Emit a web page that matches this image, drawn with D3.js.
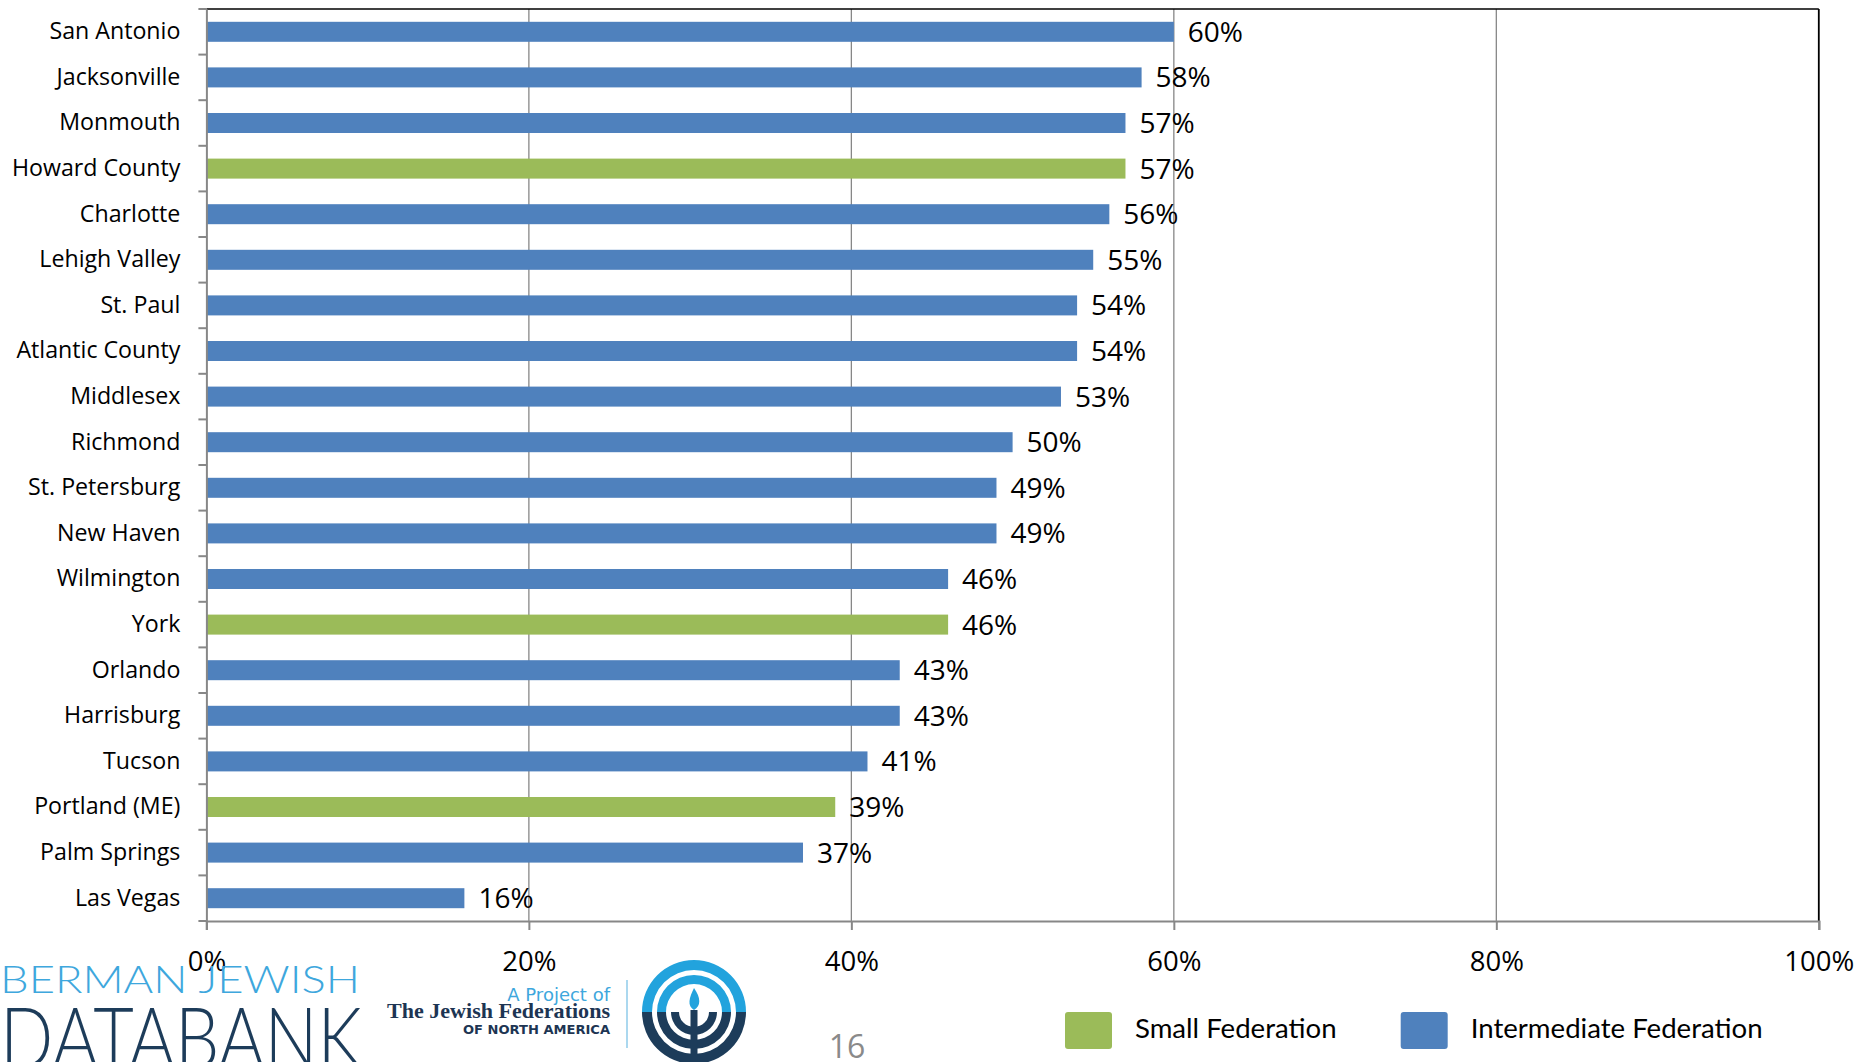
<!DOCTYPE html>
<html>
<head>
<meta charset="utf-8">
<script src="https://cdn.jsdelivr.net/npm/d3@7/dist/d3.min.js"></script>
<style>
  html, body { margin: 0; padding: 0; background: #fff; }
  svg { display: block; }
</style>
</head>
<body>
<svg id="chart" width="1860" height="1062"></svg>
<script>
// ---- Data ----
const categories = ["San Antonio", "Jacksonville", "Monmouth", "Howard County", "Charlotte",
  "Lehigh Valley", "St. Paul", "Atlantic County", "Middlesex", "Richmond", "St. Petersburg",
  "New Haven", "Wilmington", "York", "Orlando", "Harrisburg", "Tucson", "Portland (ME)",
  "Palm Springs", "Las Vegas"];
const values = [60, 58, 57, 57, 56, 55, 54, 54, 53, 50, 49, 49, 46, 46, 43, 43, 41, 39, 37, 16];
const federationType = ["Intermediate", "Intermediate", "Intermediate", "Small", "Intermediate",
  "Intermediate", "Intermediate", "Intermediate", "Intermediate", "Intermediate", "Intermediate",
  "Intermediate", "Intermediate", "Small", "Intermediate", "Intermediate", "Intermediate", "Small",
  "Intermediate", "Intermediate"];
const xTickValues = [0, 20, 40, 60, 80, 100];
const legendTypes = ["Small", "Intermediate"];
const legendLabels = ["Small Federation", "Intermediate Federation"];
const pageNumber = "16";

(function () {
// ---- Layout ----
const svg = d3.select("#chart");
const pLeft = 206.4, pRight = 1818.8, pTop = 9, pBottom = 921;
const color = d3.scaleOrdinal().domain(["Small", "Intermediate"]).range(["#9bbb59", "#4f81bd"]);
const x = d3.scaleLinear().domain([0, 100]).range([pLeft, pRight]);
const y = d3.scaleBand().domain(categories).range([pTop, pBottom]).padding(0);
const step = y.step();
const barH = 20;
const gridColor = "#878787";

// gridlines
svg.append("g").selectAll("line")
  .data(xTickValues.filter(d => d > 0 && d < 100))
  .join("line")
  .attr("x1", d => x(d)).attr("x2", d => x(d))
  .attr("y1", pTop).attr("y2", pBottom)
  .attr("stroke", gridColor).attr("stroke-width", 1.3);

// bars
const rows = categories.map((c, i) => ({ c, v: values[i], t: federationType[i] }));
svg.append("g").selectAll("rect")
  .data(rows)
  .join("rect")
  .attr("x", x(0))
  .attr("y", d => y(d.c) + (step - barH) / 2)
  .attr("width", d => x(d.v) - x(0))
  .attr("height", barH)
  .attr("fill", d => color(d.t));

// value labels
svg.append("g").selectAll("text")
  .data(rows)
  .join("text")
  .attr("x", d => x(d.v) + 14)
  .attr("y", d => y(d.c) + step / 2)
  .attr("dy", "0.36em")
  .attr("font-family", "'Open Sans', sans-serif")
  .attr("font-size", 28)
  .attr("fill", "#000")
  .text(d => d.v + "%");

// top & right border (black)
svg.append("line").attr("x1", pLeft).attr("x2", pRight).attr("y1", pTop).attr("y2", pTop)
  .attr("stroke", "#000").attr("stroke-width", 1.5);
svg.append("line").attr("x1", pRight).attr("x2", pRight).attr("y1", pTop).attr("y2", pBottom)
  .attr("stroke", "#000").attr("stroke-width", 1.8);

// left axis with category labels
const yAxis = svg.append("g")
  .attr("transform", `translate(${pLeft},0)`)
  .call(d3.axisLeft(y).tickSize(0).tickPadding(26));
yAxis.select(".domain").attr("stroke", gridColor).attr("stroke-width", 2);
yAxis.selectAll("text")
  .attr("font-family", "'Open Sans', sans-serif")
  .attr("font-size", 23.2)
  .attr("fill", "#000");
// boundary ticks on left axis
const boundaries = d3.range(categories.length + 1);
svg.append("g").selectAll("line")
  .data(boundaries)
  .join("line")
  .attr("x1", pLeft - 8).attr("x2", pLeft)
  .attr("y1", d => pTop + d * step).attr("y2", d => pTop + d * step)
  .attr("stroke", gridColor).attr("stroke-width", 2);

// bottom axis
const xAxis = svg.append("g")
  .attr("transform", `translate(0,${pBottom})`)
  .call(d3.axisBottom(x).tickValues(xTickValues).tickSize(9).tickPadding(21).tickFormat(d => d + "%"));
xAxis.select(".domain").attr("stroke", gridColor).attr("stroke-width", 2.2);
xAxis.selectAll(".tick line").attr("stroke", gridColor).attr("stroke-width", 2);
xAxis.selectAll("text")
  .attr("font-family", "'Open Sans', sans-serif")
  .attr("font-size", 27.5)
  .attr("fill", "#000");

// legend
const legendX = [1065, 1400.7];
const lg = svg.append("g").selectAll("g")
  .data(legendTypes)
  .join("g")
  .attr("transform", (d, i) => `translate(${legendX[i]},1012)`);
lg.append("rect")
  .attr("width", 47).attr("height", 37).attr("rx", 3)
  .attr("fill", d => color(d));
lg.append("text")
  .attr("x", 70).attr("y", 26)
  .attr("font-family", "Lato, sans-serif")
  .attr("font-size", 27.6)
  .attr("fill", "#000")
  .text((d, i) => legendLabels[i]);

// page number
svg.append("text")
  .attr("x", 847).attr("y", 1058)
  .attr("text-anchor", "middle")
  .attr("font-family", "'Open Sans', sans-serif")
  .attr("font-size", 32)
  .attr("fill", "#8a8a8a")
  .text(pageNumber);

// ---- Logos ----
const logo = svg.append("g");
logo.append("text")
  .attr("x", 0).attr("y", 993)
  .attr("font-family", "Lato, sans-serif").attr("font-weight", 300)
  .attr("font-size", 37).attr("fill", "#3ea7dd")
  .attr("textLength", 360).attr("lengthAdjust", "spacingAndGlyphs")
  .text("BERMAN JEWISH");
logo.append("text")
  .attr("x", 0).attr("y", 1068)
  .attr("font-family", "Lato, sans-serif").attr("font-weight", 300)
  .attr("font-size", 84).attr("fill", "#1d3c5a")
  .attr("textLength", 362).attr("lengthAdjust", "spacingAndGlyphs")
  .text("DATABANK");

logo.append("text")
  .attr("x", 610).attr("y", 1001).attr("text-anchor", "end")
  .attr("font-family", "'DejaVu Sans', sans-serif")
  .attr("font-size", 18).attr("fill", "#3ea7dd")
  .text("A Project of");
logo.append("text")
  .attr("x", 387).attr("y", 1018)
  .attr("font-family", "'Liberation Serif', serif").attr("font-weight", "bold")
  .attr("font-size", 21).attr("fill", "#1d3553")
  .attr("textLength", 223).attr("lengthAdjust", "spacingAndGlyphs")
  .text("The Jewish Federations");
logo.append("text")
  .attr("x", 463).attr("y", 1034)
  .attr("font-family", "'DejaVu Sans', sans-serif").attr("font-weight", "bold")
  .attr("font-size", 11.5).attr("fill", "#1d3553")
  .attr("textLength", 147).attr("lengthAdjust", "spacingAndGlyphs")
  .text("OF NORTH AMERICA");
logo.append("line")
  .attr("x1", 627).attr("x2", 627).attr("y1", 980).attr("y2", 1048)
  .attr("stroke", "#8fcbea").attr("stroke-width", 1.5);

// emblem
const cx = 694, cy = 1012;
const em = logo.append("g").attr("transform", `translate(${cx},${cy})`);
const arc = d3.arc();
const topRings = [[42, 52], [28, 37]];
topRings.forEach(r => {
  em.append("path")
    .attr("d", arc({ innerRadius: r[0], outerRadius: r[1], startAngle: -Math.PI / 2, endAngle: Math.PI / 2 }))
    .attr("fill", "#22a3dd");
});
const botRings = [[42, 52], [28, 37], [15, 23]];
botRings.forEach(r => {
  em.append("path")
    .attr("d", arc({ innerRadius: r[0], outerRadius: r[1], startAngle: Math.PI / 2, endAngle: 3 * Math.PI / 2 }))
    .attr("fill", "#1d3c5a");
});
em.append("rect").attr("x", -3.5).attr("y", -2).attr("width", 7).attr("height", 52).attr("fill", "#1d3c5a");
em.append("path")
  .attr("d", "M0,-24 C7,-14 7,-6 0,-2 C-7,-6 -5,-14 0,-24 Z")
  .attr("fill", "#22a3dd");
})();
</script>
</body>
</html>
